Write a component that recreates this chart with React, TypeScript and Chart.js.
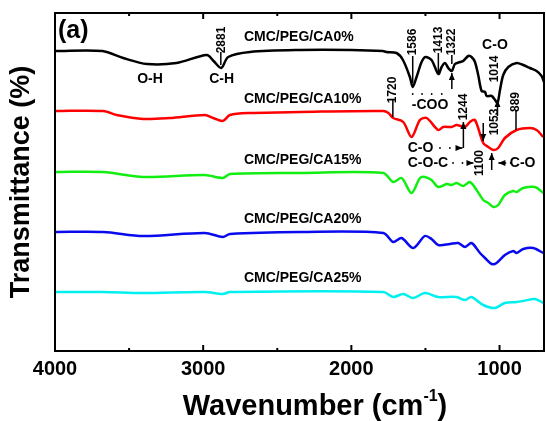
import React, { useEffect, useRef } from 'react';
import { Chart, registerables } from 'chart.js';

Chart.register(...registerables);

// ---- data (wavenumber in cm-1, transmittance in arbitrary offset units) ----
const ca0Wavenumber = [4000, 3680, 3540, 3380, 3180, 2976, 2930, 2878, 2831, 2684, 2347, 2000, 1787, 1765, 1695, 1652, 1605, 1586, 1560, 1526, 1500, 1459, 1413, 1391, 1368, 1346, 1322, 1301, 1267, 1245, 1211, 1189, 1166, 1144, 1121, 1098, 1087, 1053, 1030, 1014, 997, 975, 941, 885, 840, 795, 750, 716, 700];
const ca0Transmittance = [300, 300, 293, 287, 288, 296, 290, 283, 294, 299, 301, 301, 300, 299, 298, 291, 274, 264, 274, 289, 294, 291, 277, 284, 288, 283, 280, 287, 289, 290, 295, 294, 289, 276, 260, 259, 255, 255, 251, 248, 261, 276, 284, 288, 286, 283, 280, 275, 269];

const ca10Wavenumber = [4000, 3674, 3584, 3404, 3224, 2988, 2932, 2868, 2819, 2684, 2347, 1785, 1750, 1718, 1650, 1594, 1537, 1492, 1414, 1380, 1323, 1290, 1233, 1200, 1166, 1110, 1076, 1042, 1009, 964, 885, 795, 750, 705];
const ca10Transmittance = [240, 240, 236, 232, 233, 236, 233, 230, 236, 238, 239, 240, 238, 233, 229, 214, 231, 233, 221, 224, 224, 226, 224, 229, 231, 208, 204, 201, 203, 213, 221, 223, 221, 214];

const ca15Wavenumber = [4000, 3674, 3404, 2988, 2868, 2819, 2347, 1785, 1718, 1661, 1594, 1537, 1504, 1459, 1414, 1357, 1323, 1290, 1245, 1200, 1155, 1110, 1076, 1042, 1009, 964, 908, 885, 840, 761, 705];
const ca15Transmittance = [179, 179, 174, 176, 173, 177, 178, 178, 169, 173, 158, 173, 174, 171, 164, 167, 166, 168, 165, 169, 161, 151, 148, 144, 146, 156, 160, 159, 163, 164, 158];

const ca20Wavenumber = [4000, 3674, 3404, 2988, 2868, 2819, 2347, 1785, 1718, 1661, 1583, 1504, 1459, 1414, 1335, 1279, 1233, 1189, 1132, 1098, 1053, 1020, 964, 908, 885, 840, 773, 705];
const ca20Transmittance = [119, 119, 115, 118, 114, 117, 119, 118, 109, 113, 103, 115, 112, 106, 107, 108, 104, 108, 98, 93, 87, 88, 96, 100, 98, 102, 103, 98];

const ca25Wavenumber = [4000, 3674, 3404, 2988, 2868, 2819, 1785, 1718, 1650, 1583, 1504, 1414, 1290, 1233, 1189, 1110, 1031, 964, 885, 840, 761, 705];
const ca25Transmittance = [59, 59, 58, 59, 57, 59, 59, 54, 57, 53, 58, 54, 54, 51, 54, 46, 43, 48, 49, 50, 52, 48];

const seriesNames = ['CMC/PEG/CA0%', 'CMC/PEG/CA10%', 'CMC/PEG/CA15%', 'CMC/PEG/CA20%', 'CMC/PEG/CA25%'];
const seriesWavenumbers = [ca0Wavenumber, ca10Wavenumber, ca15Wavenumber, ca20Wavenumber, ca25Wavenumber];
const seriesTransmittances = [ca0Transmittance, ca10Transmittance, ca15Transmittance, ca20Transmittance, ca25Transmittance];
const seriesColors = ['#000000', '#ff0000', '#11ee11', '#0a0aee', '#00f0f0'];
// series name label anchors (left edge) in data coordinates
const seriesLabelWavenumber = [2725, 2725, 2725, 2725, 2725];
const seriesLabelLevel = [314, 252, 191, 132, 73];

const xTickValues = [4000, 3000, 2000, 1000];
const xTickLabels = ['4000', '3000', '2000', '1000'];
const xMinorTickValues = [3500, 2500, 1500];

// peak numbers (rotated) in data coordinates
const peakLabelTexts = ['2881', '1586', '1413', '1322', '1014', '1720', '1244', '1053', '1100', '889'];
const peakLabelWavenumber = [2877, 1584, 1413, 1323, 1031, 1720, 1244, 1034, 1132, 889];
const peakLabelLevel = [311, 309, 311, 309, 282, 261, 244, 229, 188, 249];

// band assignments
const bandTexts = ['O-H', 'C-H', 'C-O', '-COO', 'C-O', 'C-O-C', 'C-O'];
const bandWavenumber = [3359, 2875, 1031, 1469, 1533, 1483, 844];
const bandLevel = [272, 272, 306, 246, 203, 188, 188];

// vertical leader lines / arrows: wavenumber, from level, to level, arrowhead at end
const leaderWavenumber = [2881, 1586, 1413, 1322, 1322, 1014, 1720, 1244, 1110, 1053, 889];
const leaderFrom = [299, 295, 298, 296, 262, 235, 251, 203, 228, 181, 240];
const leaderTo = [286, 268, 279, 287, 278, 251, 234, 229, 210, 198, 221];
const leaderHead = [false, false, false, false, true, true, false, true, true, true, false];

// horizontal arrows: from wavenumber -> to wavenumber at level
const hArrowFrom = [1290, 1212, 955];
const hArrowTo = [1250, 1176, 1008];
const hArrowLevel = [203, 188, 188];

// dotted markers
const dotWavenumber = [1586, 1523, 1458, 1390, 1402, 1335, 1314, 1250, 925];
const dotLevel = [257, 257, 257, 257, 203, 203, 188, 188, 188];

const FONT = "'Liberation Sans', Arial, Helvetica, sans-serif";

const ftirPlugin = {
  id: 'ftirDecor',
  afterDraw(chart: any) {
    const { ctx, chartArea: ca } = chart;
    const xs = chart.scales.x;
    const ys = chart.scales.y;
    const px = (v: number) => xs.getPixelForValue(v);
    const py = (v: number) => ys.getPixelForValue(v);
    ctx.save();
    ctx.strokeStyle = '#000';
    ctx.fillStyle = '#000';
    // frame
    ctx.lineWidth = 2;
    ctx.strokeRect(ca.left, ca.top, ca.right - ca.left, ca.bottom - ca.top);
    // ticks
    ctx.lineWidth = 2;
    const tick = (v: number, len: number) => {
      const p = px(v);
      ctx.beginPath();
      ctx.moveTo(p, ca.bottom); ctx.lineTo(p, ca.bottom - len);
      ctx.moveTo(p, ca.top); ctx.lineTo(p, ca.top + len);
      ctx.stroke();
    };
    xTickValues.forEach((v) => tick(v, 6));
    xMinorTickValues.forEach((v) => tick(v, 3));

    // series names
    ctx.font = `bold 14px ${FONT}`;
    ctx.textAlign = 'left';
    ctx.textBaseline = 'middle';
    seriesNames.forEach((n, i) => ctx.fillText(n, px(seriesLabelWavenumber[i]), py(seriesLabelLevel[i])));

    // (a)
    ctx.font = `bold 25px ${FONT}`;
    ctx.fillText('(a)', px(3980), py(320));

    // band labels
    ctx.font = `bold 14px ${FONT}`;
    ctx.textAlign = 'center';
    bandTexts.forEach((t, i) => ctx.fillText(t, px(bandWavenumber[i]), py(bandLevel[i])));

    // rotated peak numbers
    ctx.font = `bold 12px ${FONT}`;
    peakLabelTexts.forEach((t, i) => {
      ctx.save();
      ctx.translate(px(peakLabelWavenumber[i]), py(peakLabelLevel[i]));
      ctx.rotate(-Math.PI / 2);
      ctx.fillText(t, 0, 0);
      ctx.restore();
    });

    // leader lines
    ctx.lineWidth = 1.5;
    leaderWavenumber.forEach((w, i) => {
      const x = px(w);
      const y1 = py(leaderFrom[i]);
      const y2 = py(leaderTo[i]);
      ctx.beginPath();
      ctx.moveTo(x, y1); ctx.lineTo(x, y2);
      ctx.stroke();
      if (leaderHead[i]) {
        const d = y2 > y1 ? 1 : -1;
        ctx.beginPath();
        ctx.moveTo(x, y2);
        ctx.lineTo(x - 3, y2 - d * 7);
        ctx.lineTo(x + 3, y2 - d * 7);
        ctx.closePath();
        ctx.fill();
      }
    });

    // horizontal arrows
    hArrowFrom.forEach((w, i) => {
      const x1 = px(w);
      const x2 = px(hArrowTo[i]);
      const y = py(hArrowLevel[i]);
      const d = x2 > x1 ? 1 : -1;
      ctx.beginPath();
      ctx.moveTo(x1, y); ctx.lineTo(x2, y);
      ctx.stroke();
      ctx.beginPath();
      ctx.moveTo(x2, y);
      ctx.lineTo(x2 - d * 7, y - 3);
      ctx.lineTo(x2 - d * 7, y + 3);
      ctx.closePath();
      ctx.fill();
    });

    // dots
    dotWavenumber.forEach((w, i) => {
      ctx.beginPath();
      ctx.arc(px(w), py(dotLevel[i]), 0.9, 0, Math.PI * 2);
      ctx.fill();
    });

    // x axis title with superscript
    const main = 'Wavenumber (cm';
    const sup = '-1';
    const tail = ')';
    ctx.textAlign = 'left';
    ctx.textBaseline = 'alphabetic';
    ctx.font = `bold 29px ${FONT}`;
    const wMain = ctx.measureText(main).width;
    const wTail = ctx.measureText(tail).width;
    ctx.font = `bold 16px ${FONT}`;
    const wSup = ctx.measureText(sup).width;
    const total = wMain + wSup + wTail;
    const cx = 315;
    const base = 415;
    let xx = cx - total / 2;
    ctx.font = `bold 29px ${FONT}`;
    ctx.fillText(main, xx, base);
    xx += wMain;
    ctx.font = `bold 16px ${FONT}`;
    ctx.fillText(sup, xx, base - 14);
    xx += wSup;
    ctx.font = `bold 29px ${FONT}`;
    ctx.fillText(tail, xx, base);
    ctx.restore();
  },
};

export default function App() {
  const ref = useRef<HTMLCanvasElement | null>(null);
  useEffect(() => {
    document.body.style.margin = '0';
    const canvas = ref.current;
    if (!canvas) return;
    const chart = new Chart(canvas, {
      type: 'line',
      data: {
        datasets: seriesNames.map((name, i) => ({
          label: name,
          data: seriesWavenumbers[i].map((w, j) => ({ x: w, y: seriesTransmittances[i][j] })),
          borderColor: seriesColors[i],
          backgroundColor: seriesColors[i],
          borderWidth: 2.5,
          pointRadius: 0,
          tension: 0.3,
          fill: false,
        })),
      },
      options: {
        animation: false,
        responsive: false,
        maintainAspectRatio: false,
        layout: { padding: { left: 0, right: 2, top: 13, bottom: 0 } },
        plugins: { legend: { display: false }, tooltip: { enabled: false } },
        scales: {
          x: {
            type: 'linear',
            reverse: true,
            min: 700,
            max: 4000,
            afterBuildTicks: (s: any) => {
              s.ticks = xTickValues.map((v) => ({ value: v }));
            },
            afterFit: (s: any) => {
              s.height = 70;
            },
            grid: { display: false, drawTicks: false },
            border: { display: false },
            ticks: {
              autoSkip: false,
              maxRotation: 0,
              padding: 6,
              color: '#000',
              font: { family: FONT, weight: 'bold', size: 20 },
              callback: (v: any) => {
                const k = xTickValues.indexOf(Number(v));
                return k >= 0 ? xTickLabels[k] : '';
              },
            },
          },
          y: {
            min: 0,
            max: 338,
            afterFit: (s: any) => {
              s.width = 55;
            },
            ticks: { display: false },
            grid: { display: false },
            border: { display: false },
            title: {
              display: true,
              text: 'Transmittance (%)',
              color: '#000',
              font: { family: FONT, weight: 'bold', size: 27 },
              padding: { top: 5, bottom: 0 },
            },
          },
        },
      },
      plugins: [ftirPlugin],
    } as any);
    return () => chart.destroy();
  }, []);
  return (
    <div style={{ position: 'absolute', left: 0, top: 0, width: 546, height: 421, background: '#fff' }}>
      <canvas ref={ref} width={546} height={421} style={{ display: 'block' }} />
    </div>
  );
}
